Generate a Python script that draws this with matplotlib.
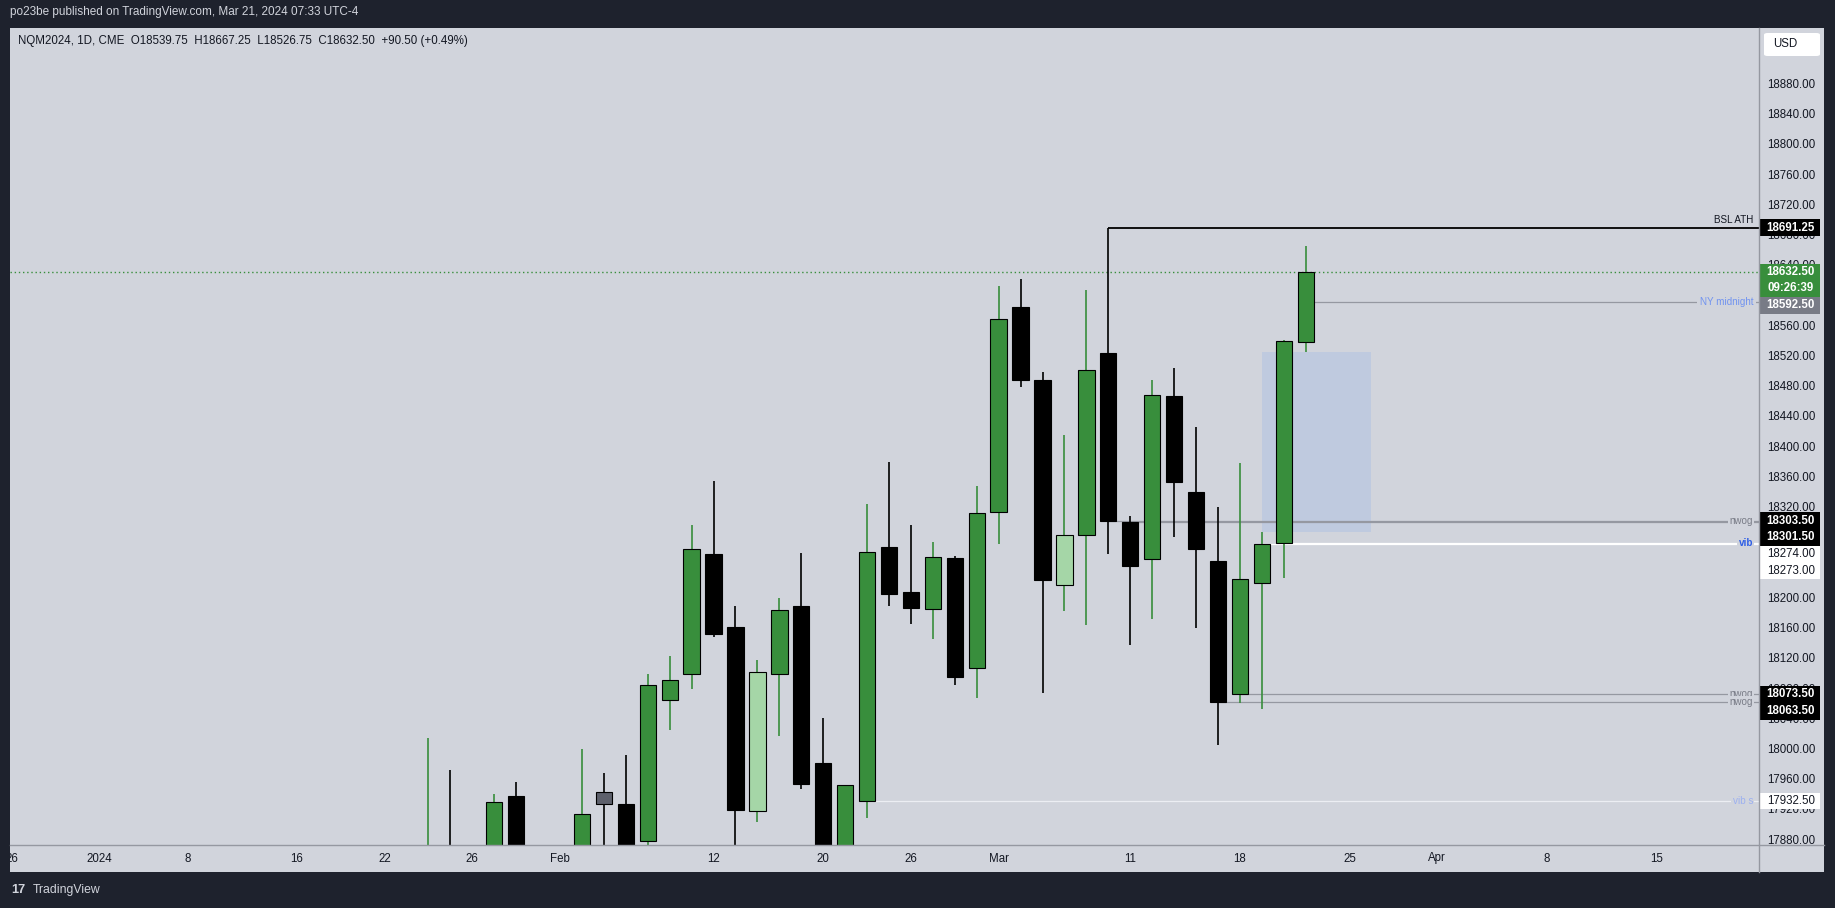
import matplotlib
matplotlib.use('Agg')
import matplotlib.pyplot as plt
from matplotlib import font_manager
from matplotlib.patches import Rectangle, FancyBboxPatch
from matplotlib.lines import Line2D
import numpy as np
import pandas as pd

# NQM2024 daily candles (hidden parts below the pane are guesses)
dates = ['2024-01-24', '2024-01-25', '2024-01-26', '2024-01-29', '2024-01-30', '2024-01-31',
         '2024-02-01', '2024-02-02', '2024-02-05', '2024-02-06', '2024-02-07', '2024-02-08',
         '2024-02-09', '2024-02-12', '2024-02-13', '2024-02-14', '2024-02-15', '2024-02-16',
         '2024-02-20', '2024-02-21', '2024-02-22', '2024-02-23', '2024-02-26', '2024-02-27',
         '2024-02-28', '2024-02-29', '2024-03-01', '2024-03-04', '2024-03-05', '2024-03-06',
         '2024-03-07', '2024-03-08', '2024-03-11', '2024-03-12', '2024-03-13', '2024-03-14',
         '2024-03-15', '2024-03-18', '2024-03-19', '2024-03-20', '2024-03-21']
opens = [17780, 17860, 17800, 17760, 17939, 17810, 17550, 17780, 17945, 17928, 17880, 18066,
         18100, 18259, 18163, 17919, 18100, 18190, 17983, 17860, 17932.5, 18269, 18209, 18186,
         18254, 18109, 18315, 18586, 18489, 18219, 18284, 18525, 18301.5, 18253, 18468, 18341,
         18250, 18073.5, 18221, 18274, 18539.75]
highs = [18016, 17974, 17860, 17942, 17958, 17850, 17790, 18001, 17970, 17993, 18101, 18124,
         18298, 18356, 18191, 18119, 18201, 18261, 18042, 17954, 18326, 18381, 18298, 18275,
         18257, 18349, 18614, 18623, 18500, 18417, 18609, 18691.25, 18309, 18490, 18506, 18428,
         18322, 18380, 18289, 18543, 18667.25]
lows = [17760, 17770, 17700, 17740, 17790, 17520, 17500, 17720, 17850, 17800, 17862, 18026,
        18081, 18149, 17840, 17905, 18018, 17949, 17830, 17840, 17910, 18191, 18167, 18147,
        18086, 18069, 18273, 18480, 18075, 18184, 18165, 18260, 18139, 18174, 18282, 18161,
        18006, 18062, 18054, 18227, 18526.75]
closes = [17860, 17800, 17760, 17931, 17810, 17540, 17770, 17915, 17928, 17830, 18086, 18092,
          18266, 18154, 17921, 18103, 18185, 17955, 17850, 17954, 18262, 18206, 18188, 18255,
          18097, 18313, 18570, 18490, 18225, 18284, 18503, 18303.5, 18243, 18470, 18354, 18266,
          18063.5, 18226, 18273, 18541, 18632.5]
# candles painted in other colours on the chart
body_overrides = {'2024-02-05': '#5d606b', '2024-02-14': '#a5d6a7', '2024-03-06': '#a5d6a7'}

holidays = ['2024-01-01', '2024-01-15', '2024-02-19', '2024-03-29']
tick_dates = ['2023-12-26', '2024-01-02', '2024-01-08', '2024-01-16', '2024-01-22', '2024-01-26',
              '2024-02-01', '2024-02-12', '2024-02-20', '2024-02-26', '2024-03-01', '2024-03-11',
              '2024-03-18', '2024-03-25', '2024-04-01', '2024-04-08', '2024-04-15']
tick_texts = ['26', '2024', '8', '16', '22', '26', 'Feb', '12', '20', '26', 'Mar', '11',
              '18', '25', 'Apr', '8', '15']

# drawn horizontal rays
level_prices = [18691.25, 18592.50, 18303.50, 18301.50, 18274.00, 18273.00, 18073.50, 18063.50, 17932.50]
level_starts = ['2024-03-08', '2024-03-21', '2024-03-08', '2024-03-11', '2024-03-20', '2024-03-19',
                '2024-03-18', '2024-03-15', '2024-02-22']
level_colors = ['#000000', '#9598a1', '#9598a1', '#9598a1', '#ffffff', '#ffffff',
                '#9598a1', '#9598a1', '#eceef3']
label_texts = ['NY midnight', 'nwog', 'vib', 'nwog', 'nwog', 'vib s']
label_prices = [18592.50, 18302.50, 18273.50, 18073.50, 18063.50, 17932.50]
label_colors = ['#7193f0', '#787b86', '#2f5fe6', '#787b86', '#787b86', '#9cb0f0']

fvg_dates = ['2024-03-19', '2024-03-26']
fvg_prices = [18289, 18526.75]

last_price = 18632.50
countdown = '09:26:39'
tag_prices = [18691.25, 18632.50, 18592.50, 18303.50, 18301.50, 18274.00, 18273.00,
              18073.50, 18063.50, 17932.50]
tag_faces = ['#000000', '#388e3c', '#787b86', '#000000', '#000000', '#ffffff', '#ffffff',
             '#000000', '#000000', '#ffffff']

header = 'NQM2024, 1D, CME  O18539.75  H18667.25  L18526.75  C18632.50  +90.50 (+0.49%)'
title = 'po23be published on TradingView.com, Mar 21, 2024 07:33 UTC-4'

# ---- style ----
DARK = '#1e222d'
PANE = '#d1d4dc'
TXT = '#131722'
SEP = '#9598a1'
GREEN = '#388e3c'

names = {f.name for f in font_manager.fontManager.ttflist}
if 'Liberation Sans Narrow' in names:
    FONT, FS, FS_S = 'Liberation Sans Narrow', 9.8, 8.4
else:
    FONT, FS, FS_S = 'Liberation Sans', 8.3, 7.1
plt.rcParams['font.family'] = [FONT, 'DejaVu Sans']

W, H = 1835, 908


def px_rect(x0, y0, x1, y1):
    return [x0 / W, 1 - y1 / H, (x1 - x0) / W, (y1 - y0) / H]


sessions = pd.bdate_range('2023-12-26', '2024-04-30')
sessions = sessions[~sessions.isin(pd.to_datetime(holidays))]
pos = {d.strftime('%Y-%m-%d'): i for i, d in enumerate(sessions)}

X0, STEP = 11.8, 21.93  # pixel of first session, pixels per bar
xlim = ((10 - X0) / STEP, (1759 - X0) / STEP)
ylim = (17874.3, 18955.4)

fig = plt.figure(figsize=(W / 100, H / 100), dpi=100, facecolor=DARK)

ax = fig.add_axes(px_rect(10, 28, 1759, 845), facecolor=PANE)
ax.set_xlim(*xlim)
ax.set_ylim(*ylim)
ax.set_xticks([])
ax.set_yticks([])
for s in ax.spines.values():
    s.set_visible(False)

# candles
x = np.array([pos[d] for d in dates])
o = np.array(opens)
c = np.array(closes)
body_col = []
wick_col = []
for d, oo, cc in zip(dates, opens, closes):
    col = GREEN if cc >= oo else '#000000'
    col = body_overrides.get(d, col)
    body_col.append(col)
    wick_col.append('#000000' if col in ('#000000', '#5d606b') else GREEN)
ax.vlines(x, lows, highs, colors=wick_col, linewidth=1.2, zorder=3)
ax.bar(x, np.abs(c - o), bottom=np.minimum(o, c), width=0.745, color=body_col,
       edgecolor='#000000', linewidth=0.8, zorder=4)

# FVG box
fx0, fx1 = pos[fvg_dates[0]], pos[fvg_dates[1]]
ax.add_patch(Rectangle((fx0, fvg_prices[0]), fx1 - fx0, fvg_prices[1] - fvg_prices[0],
                       facecolor='#bfcadf', edgecolor='none', zorder=1))

# last price line
ax.axhline(last_price, color=GREEN, linestyle=(0, (1, 2)), linewidth=1, zorder=2)

# rays
for p, d, col in zip(level_prices, level_starts, level_colors):
    lw = 1.3 if col == '#000000' else 0.9
    ax.hlines(p, pos[d], xlim[1], colors=col, linewidth=lw, zorder=2)

ax.text(0.9966, level_prices[0] + 4, 'BSL ATH', transform=ax.get_yaxis_transform(),
        ha='right', va='bottom', fontsize=FS_S, color=TXT, zorder=6)
for t, p, col in zip(label_texts, label_prices, label_colors):
    pad = 0.3 if t == 'NY midnight' else 0.12
    ax.text(0.9966, p, t, transform=ax.get_yaxis_transform(), ha='right', va='center',
            fontsize=FS_S, color=col, fontweight='bold' if t == 'vib' else 'normal', zorder=6,
            bbox=dict(boxstyle=f'square,pad={pad}', fc=PANE, ec='none'))

ax.text(8 / 1749, 1 - 13 / 817, header, transform=ax.transAxes, ha='left', va='center',
        fontsize=FS, color=TXT)

# bottom and right separators
fig.add_artist(Line2D([10 / W, 1824 / W], [1 - 845 / H] * 2, color=SEP, linewidth=1))
fig.add_artist(Line2D([1759 / W] * 2, [1 - 28 / H, 1 - 872 / H], color=SEP, linewidth=1))

# time axis
axt = fig.add_axes(px_rect(10, 845, 1759, 872), facecolor=PANE)
axt.set_xlim(*xlim)
axt.set_ylim(0, 1)
axt.axis('off')
axt.add_patch(Rectangle((0, 0), 1, 1, transform=axt.transAxes, facecolor=PANE, zorder=0))
for d, t in zip(tick_dates, tick_texts):
    axt.text(pos[d], 0.5, t, ha='center', va='center', fontsize=FS, color=TXT, clip_on=True)

# corner
fig.add_artist(Rectangle((1759 / W, 1 - 872 / H), 65 / W, 27 / H, transform=fig.transFigure,
                         facecolor=PANE, edgecolor='none', zorder=0))

# price axis
axp = fig.add_axes(px_rect(1759, 28, 1824, 845), facecolor=PANE)
axp.set_ylim(*ylim)
axp.set_xlim(0, 1)
axp.set_xticks([])
axp.set_yticks([])
for s in axp.spines.values():
    s.set_visible(False)
for v in np.arange(17880, 18881, 40):
    axp.text(0.5, v, f'{v:.2f}', ha='center', va='center', fontsize=FS, color=TXT,
             clip_on=True, zorder=2)

HALF = 11.05  # half tag height in price units
prev_bottom = np.inf
ytr = axp.get_yaxis_transform()
for p, fc in zip(tag_prices, tag_faces):
    rows = 2 if p == last_price else 1
    top = min(p + HALF, prev_bottom)
    bottom = top - rows * 2 * HALF
    prev_bottom = bottom
    axp.add_patch(Rectangle((0, bottom), 0.94, top - bottom, transform=ytr,
                            facecolor=fc, edgecolor='none', zorder=5))
    tc = TXT if fc == '#ffffff' else '#ffffff'
    fw = 'normal' if fc == '#ffffff' else 'bold'
    axp.text(0.49, top - HALF, f'{p:.2f}', transform=ytr, ha='center', va='center',
             fontsize=FS, color=tc, fontweight=fw, zorder=6)
    if rows == 2:
        axp.text(0.49, top - 3 * HALF + 1, countdown, transform=ytr, ha='center', va='center',
                 fontsize=FS, color=tc, fontweight=fw, zorder=6)

# currency button
fig.add_artist(FancyBboxPatch((1764 / W, 1 - 56 / H), 56 / W, 23 / H,
                              boxstyle='round,pad=0,rounding_size=0.002',
                              transform=fig.transFigure, facecolor='#ffffff', edgecolor='none'))
fig.text(1773 / W, 1 - 44 / H, 'USD', ha='left', va='center', fontsize=FS, color=TXT)

# title bar and footer
fig.text(10 / W, 1 - 12 / H, title, ha='left', va='center', fontsize=FS + 0.2, color='#d1d4dc')
fig.text(11 / W, 1 - 890 / H, '17', ha='left', va='center', fontsize=FS + 1,
         fontweight='bold', color='#d1d4dc')
fig.text(33 / W, 1 - 890 / H, 'TradingView', ha='left', va='center', fontsize=FS + 0.5,
         color='#d1d4dc')

fig.savefig('out.png', dpi=100, facecolor=DARK)
